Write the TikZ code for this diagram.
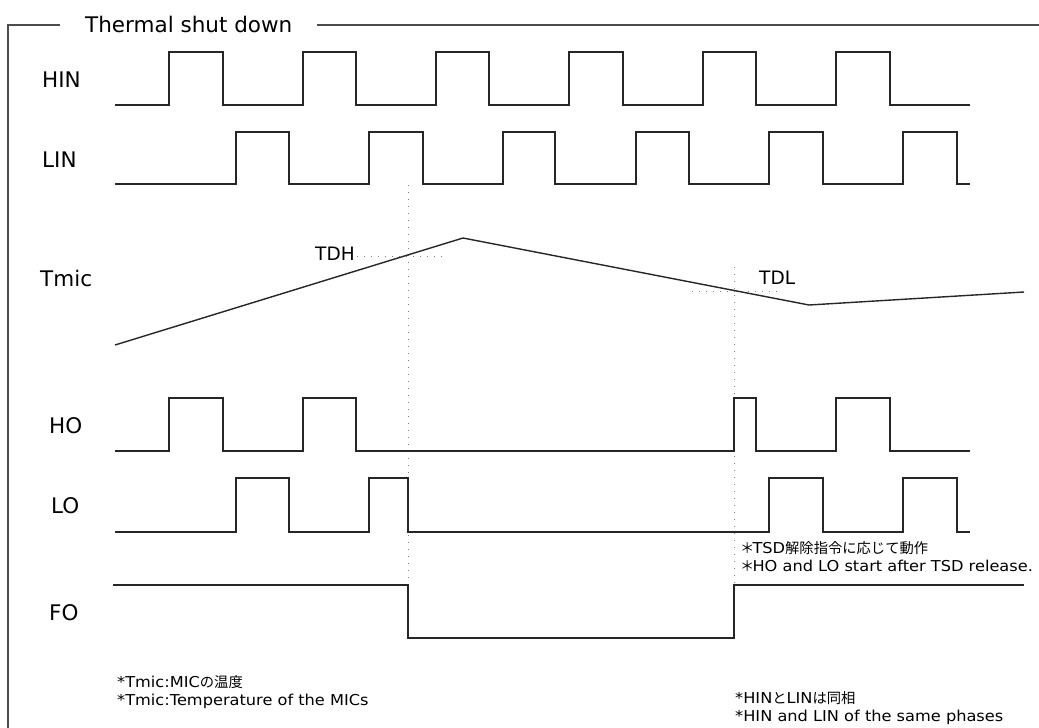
\documentclass[tikz,border=0pt]{standalone}
\usepackage{fontspec}
\newfontfamily\labfont{DejaVu Sans}
\newfontfamily\notefont[FakeStretch=1.08]{DejaVu Sans}
\newfontfamily\jpfont{Noto Sans CJK JP}
\newcommand\JPtxt[1]{{\jpfont\fontsize{14.3pt}{17pt}\selectfont #1}}
\begin{document}
\begin{tikzpicture}[x=1pt,y=-1pt,
  wave/.style={line width=1.4pt, draw=black!85, line join=miter},
  framel/.style={line width=1.3pt, draw=black!70},
  guide/.style={line width=1pt, draw=black!50, dash pattern=on 1pt off 6pt},
  lab/.style={font=\labfont\fontsize{21.5pt}{25pt}\selectfont, inner sep=0pt, anchor=base west},
  thr/.style={font=\labfont\fontsize{18.5pt}{22pt}\selectfont, inner sep=0pt, anchor=base west},
  note/.style={font=\notefont\fontsize{15pt}{18pt}\selectfont, inner sep=0pt, anchor=base west}]
\useasboundingbox (0,0) rectangle (1039,728);
% frame
\draw[framel] (60,25) -- (8,25) -- (8,728);
\draw[framel] (317,25) -- (1039,25);
\node[lab] (title) at (85,32) {Thermal shut down};
% labels
\node[lab] (hin) at (42,87) {HIN};
\node[lab] (lin) at (42,167) {LIN};
\node[lab] (tmic) at (40,286) {Tmic};
\node[lab] (ho) at (49,433) {HO};
\node[lab] (lo) at (51,513) {LO};
\node[lab] (fo) at (49,620) {FO};
% guides
\draw[guide] (357,256) -- (448,256);
\draw[guide] (692,291) -- (782,291);
\draw[guide] (408,185) -- (408,585);
\draw[guide] (734,267) -- (734,585);
\node[thr] (tdh) at (315,260) {TDH};
\node[thr] (tdl) at (759,284) {TDL};
% HIN
\draw[wave] (115,105) -| (169,52) -| (223,105) -| (303,52) -| (356,105) -| (436,52) -| (489,105)
  -| (569,52) -| (623,105) -| (703,52) -| (756,105) -| (836,52) -| (890,105) -- (970,105);
% LIN
\draw[wave] (115,184) -| (236,132) -| (289,184) -| (369,132) -| (423,184) -| (503,132) -| (555,184)
  -| (636,132) -| (689,184) -| (769,132) -| (823,184) -| (903,132) -| (957,184) -- (970,184);
% Tmic
\draw[wave] (115,345) -- (463,238) -- (809,305) -- (1024,292);
% HO
\draw[wave] (115,451) -| (169,398) -| (223,451) -| (303,398) -| (356,451) -| (734,398) -| (756,451)
  -| (836,398) -| (890,451) -- (970,451);
% LO
\draw[wave] (115,532) -| (236,478) -| (289,532) -| (369,478) -| (408,532) -| (769,478) -| (823,532)
  -| (903,478) -| (957,532) -- (970,532);
% FO
\draw[wave] (113,585) -| (408,638) -| (734,585) -- (1024,585);
% notes
\node[note] (n1) at (117,687) {*Tmic:MIC\JPtxt{の温度}};
\node[note] (n2) at (117,705) {*Tmic:Temperature of the MICs};
\node[note] (n3) at (740,553) {\JPtxt{＊}\kern-2pt TSD\JPtxt{解除指令に応じて動作}};
\node[note] (n4) at (740,571) {\JPtxt{＊}\kern-2pt HO and LO start after TSD release.};
\node[note] (n5) at (735,703) {*HIN\JPtxt{と}LIN\JPtxt{は同相}};
\node[note] (n6) at (735,721) {*HIN and LIN of the same phases};
\end{tikzpicture}
\end{document}
